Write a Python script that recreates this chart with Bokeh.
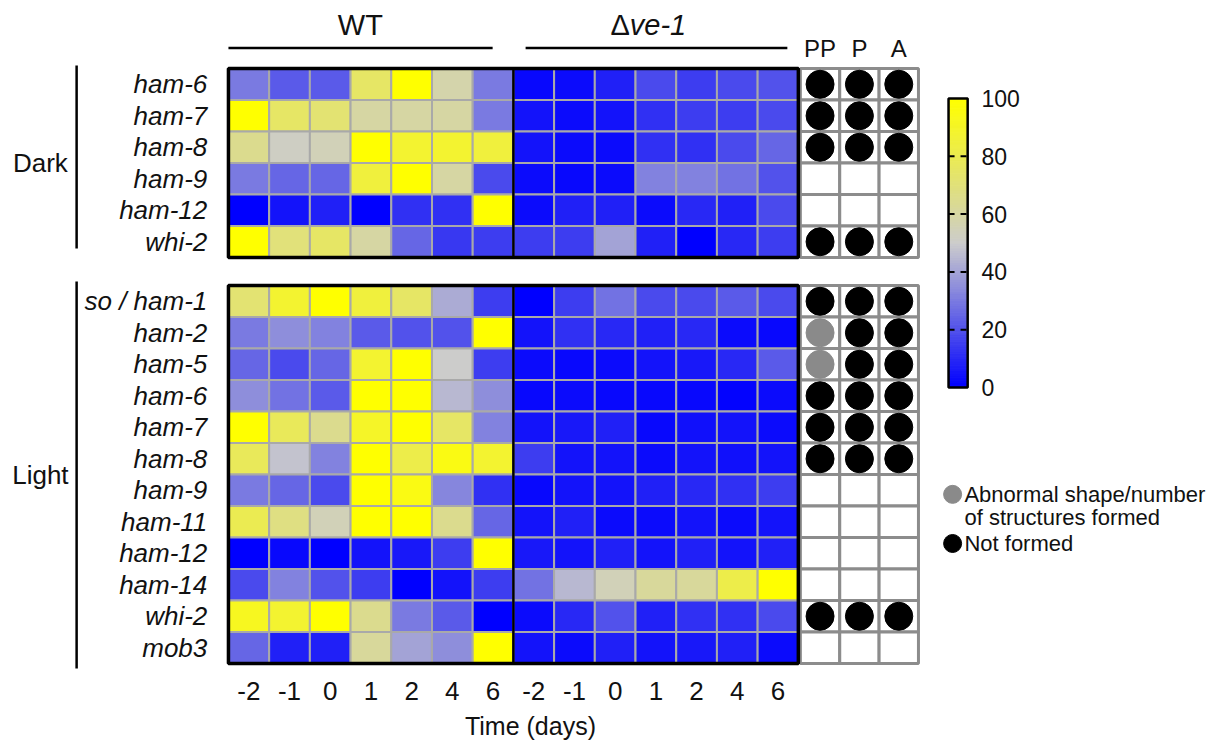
import numpy as np
from bokeh.plotting import figure
from bokeh.models import ColumnDataSource, LinearColorMapper, Range1d
from bokeh.core.properties import value
from bokeh.embed import file_html
from bokeh.resources import INLINE

# ---------------- data ----------------
days = ["-2", "-1", "0", "1", "2", "4", "6"]
strains = ["WT", "ve-1"]
genes_dark = ["ham-6", "ham-7", "ham-8", "ham-9", "ham-12", "whi-2"]
genes_light = ["so / ham-1", "ham-2", "ham-5", "ham-6", "ham-7", "ham-8",
               "ham-9", "ham-11", "ham-12", "ham-14", "whi-2", "mob3"]

wt_dark = [
    [30, 22, 22, 75, 100, 58, 30],
    [100, 75, 72, 60, 60, 60, 30],
    [65, 52, 55, 100, 88, 88, 85],
    [30, 25, 25, 85, 100, 60, 18],
    [0, 5, 8, 0, 12, 12, 100],
    [100, 70, 75, 60, 25, 14, 15],
]
dve1_dark = [
    [2, 3, 8, 18, 15, 18, 20],
    [5, 3, 5, 12, 15, 15, 18],
    [5, 3, 3, 12, 12, 18, 25],
    [3, 2, 3, 32, 32, 28, 20],
    [3, 8, 8, 3, 10, 8, 18],
    [15, 15, 40, 8, 0, 10, 15],
]
wt_light = [
    [72, 88, 100, 85, 75, 42, 15],
    [30, 35, 32, 22, 20, 20, 100],
    [25, 18, 25, 88, 100, 50, 15],
    [35, 28, 22, 100, 100, 45, 35],
    [100, 78, 65, 90, 100, 75, 32],
    [78, 48, 32, 100, 82, 95, 88],
    [30, 25, 18, 100, 95, 33, 12],
    [80, 68, 55, 100, 100, 65, 25],
    [0, 2, 0, 5, 6, 15, 100],
    [18, 32, 20, 15, 0, 5, 15],
    [92, 88, 100, 65, 30, 22, 0],
    [25, 8, 8, 62, 40, 35, 100],
]
dve1_light = [
    [0, 15, 28, 18, 18, 22, 18],
    [5, 12, 10, 8, 10, 3, 2],
    [3, 2, 3, 5, 6, 10, 22],
    [2, 3, 2, 2, 2, 1, 3],
    [5, 6, 8, 2, 4, 5, 3],
    [15, 5, 5, 3, 5, 4, 5],
    [2, 5, 5, 8, 10, 12, 15],
    [5, 8, 3, 3, 5, 3, 5],
    [6, 5, 8, 5, 8, 5, 8],
    [28, 45, 55, 62, 62, 82, 100],
    [3, 10, 20, 8, 12, 12, 18],
    [5, 3, 8, 5, 6, 8, 3],
]
structures = ["PP", "P", "A"]
# "N" = not formed (black), "A" = abnormal (grey), "" = formed normally
struct_dark = [
    ["N", "N", "N"], ["N", "N", "N"], ["N", "N", "N"],
    ["", "", ""], ["", "", ""], ["N", "N", "N"],
]
struct_light = [
    ["N", "N", "N"], ["A", "N", "N"], ["A", "N", "N"],
    ["N", "N", "N"], ["N", "N", "N"], ["N", "N", "N"],
    ["", "", ""], ["", "", ""], ["", "", ""], ["", "", ""],
    ["N", "N", "N"], ["", "", ""],
]
cbar_ticks = [0, 20, 40, 60, 80, 100]
legend_labels = ["Abnormal shape/number\nof structures formed", "Not formed"]

# ---------------- colour map ----------------
def _grad(t):
    if t <= 0.5:
        s = t / 0.5
        return (int(round(204 * s)), int(round(204 * s)), int(round(255 - 51 * s)))
    s = (t - 0.5) / 0.5
    return (int(round(204 + 51 * s)), int(round(204 + 51 * s)), int(round(204 - 204 * s)))

palette = ["#%02x%02x%02x" % _grad(t) for t in np.linspace(0, 1, 256)]
mapper = LinearColorMapper(palette=palette, low=0, high=100)

FONT = value("Liberation Sans")
TXT = "#111111"

# ---------------- figure ----------------
p = figure(width=1211, height=743, output_backend="svg", toolbar_location=None,
           x_range=Range1d(-5.6, 24.15), y_range=Range1d(21.43, -2.16),
           x_axis_location=None, y_axis_location=None, min_border=0)
p.outline_line_color = None
p.xgrid.visible = False
p.ygrid.visible = False
p.background_fill_color = "white"

NCOL = len(days) * len(strains)
panels = [
    (genes_dark, wt_dark, dve1_dark, struct_dark, 0.0),
    (genes_light, wt_light, dve1_light, struct_light, 6.89),
]

cx, cy, cv = [], [], []
gy, gl = [], []
sx, sy = [], []           # structure grid cells
bx, by, bc = [], [], []   # structure dots
SX0, SW = 14.05, 0.967
for genes, wt, dv, st, y0 in panels:
    for i, g in enumerate(genes):
        for s, vals in enumerate([wt, dv]):
            for d in range(len(days)):
                cx.append(s * len(days) + d + 0.5)
                cy.append(y0 + i + 0.5)
                cv.append(vals[i][d])
        gl.append(g)
        gy.append(y0 + i + 0.5)
        for k in range(len(structures)):
            sx.append(SX0 + (k + 0.5) * SW)
            sy.append(y0 + i + 0.5)
            if st[i][k]:
                bx.append(SX0 + (k + 0.5) * SW)
                by.append(y0 + i + 0.5)
                bc.append("#000000" if st[i][k] == "N" else "#8a8a8a")

cells = ColumnDataSource(dict(x=cx, y=cy, v=cv))
p.rect(x="x", y="y", width=1, height=1, source=cells,
       fill_color={"field": "v", "transform": mapper},
       line_color="#a9a9a9", line_width=2)

# structure grid
p.rect(x=sx, y=sy, width=SW, height=1, fill_color="white",
       line_color="#8c8c8c", line_width=3)
p.scatter(x=bx, y=by, size=28, fill_color=bc, line_color=bc, marker="circle")

# panel borders
for genes, wt, dv, st, y0 in panels:
    n = len(genes)
    p.quad(left=0, right=NCOL, top=y0, bottom=y0 + n, fill_color=None,
           line_color="black", line_width=3.5)
    p.segment(x0=len(days), y0=y0, x1=len(days), y1=y0 + n,
              line_color="black", line_width=2.5)

# gene labels
p.text(x=[-0.52] * len(gl), y=gy, text=gl, text_font=FONT,
       text_font_size="26px", text_font_style="italic",
       text_align="right", text_baseline="middle", text_color=TXT)

# condition labels + brackets
p.text(x=[-4.62, -4.62], y=[3.0, 12.89], text=["Dark", "Light"], text_font=FONT,
       text_font_size="26px", text_align="center", text_baseline="middle",
       text_color=TXT)
p.segment(x0=[-3.73, -3.73], y0=[-0.1, 6.76], x1=[-3.73, -3.73], y1=[5.71, 19.05],
          line_color="black", line_width=2.5)

# top headers
p.segment(x0=[0, 7.3], y0=[-0.65, -0.65], x1=[6.49, 13.73], y1=[-0.65, -0.65],
          line_color="black", line_width=2.5)
p.text(x=[3.24], y=[-1.37], text=[strains[0]], text_font=FONT,
       text_font_size="29px", text_align="center", text_baseline="middle",
       text_color=TXT)
p.text(x=[9.86], y=[-1.37], text=["Δ"], text_font=FONT,
       text_font_size="29px", text_align="right", text_baseline="middle",
       text_color=TXT)
p.text(x=[9.86], y=[-1.37], text=[strains[1]], text_font=FONT,
       text_font_size="29px", text_font_style="italic", text_align="left",
       text_baseline="middle", text_color=TXT)
p.text(x=[SX0 + (k + 0.5) * SW for k in range(len(structures))],
       y=[-0.63] * len(structures), text=structures, text_font=FONT,
       text_font_size="24px", text_align="center", text_baseline="middle",
       text_color=TXT)

# x tick labels and title
p.text(x=[c + 0.5 for c in range(NCOL)], y=[19.75] * NCOL, text=days * 2,
       text_font=FONT, text_font_size="26px", text_align="center",
       text_baseline="middle", text_color=TXT)
p.text(x=[7.42], y=[20.86], text=["Time (days)"], text_font=FONT,
       text_font_size="25px", text_align="center", text_baseline="middle",
       text_color=TXT)

# colour bar
CB_L, CB_R, CB_TOP, CB_BOT = 17.69, 18.16, 0.952, 10.127
def cb_y(v):
    return CB_BOT - v / 100.0 * (CB_BOT - CB_TOP)
edges = np.linspace(0, 100, 121)
cb = ColumnDataSource(dict(
    b=[cb_y(e) for e in edges[:-1]], t=[cb_y(e) for e in edges[1:]],
    v=list((edges[:-1] + edges[1:]) / 2)))
p.quad(left=CB_L, right=CB_R, bottom="b", top="t", source=cb,
       fill_color={"field": "v", "transform": mapper},
       line_color={"field": "v", "transform": mapper}, line_width=1)
p.quad(left=CB_L, right=CB_R, top=CB_TOP, bottom=CB_BOT, fill_color=None,
       line_color="black", line_width=2.5)
inner = [t for t in cbar_ticks if 0 < t < 100]
p.segment(x0=[CB_L] * len(inner), x1=[CB_R + 0.05] * len(inner),
          y0=[cb_y(t) for t in inner], y1=[cb_y(t) for t in inner],
          line_color="black", line_width=2, line_dash="6 6")
p.text(x=[18.5] * len(cbar_ticks), y=[cb_y(t) for t in cbar_ticks],
       text=[str(t) for t in cbar_ticks], text_font=FONT, text_font_size="23px",
       text_align="left", text_baseline="middle", text_color=TXT)

# legend
p.scatter(x=[17.79, 17.79], y=[13.52, 15.08], size=18,
          fill_color=["#8a8a8a", "#000000"], line_color=["#8a8a8a", "#000000"])
leg_lines = legend_labels[0].split("\n") + [legend_labels[1]]
p.text(x=[18.08] * 3, y=[13.52, 14.25, 15.08], text=leg_lines, text_font=FONT,
       text_font_size="22px", text_align="left", text_baseline="middle",
       text_color=TXT)

open("out.html", "w").write(file_html(p, INLINE))
